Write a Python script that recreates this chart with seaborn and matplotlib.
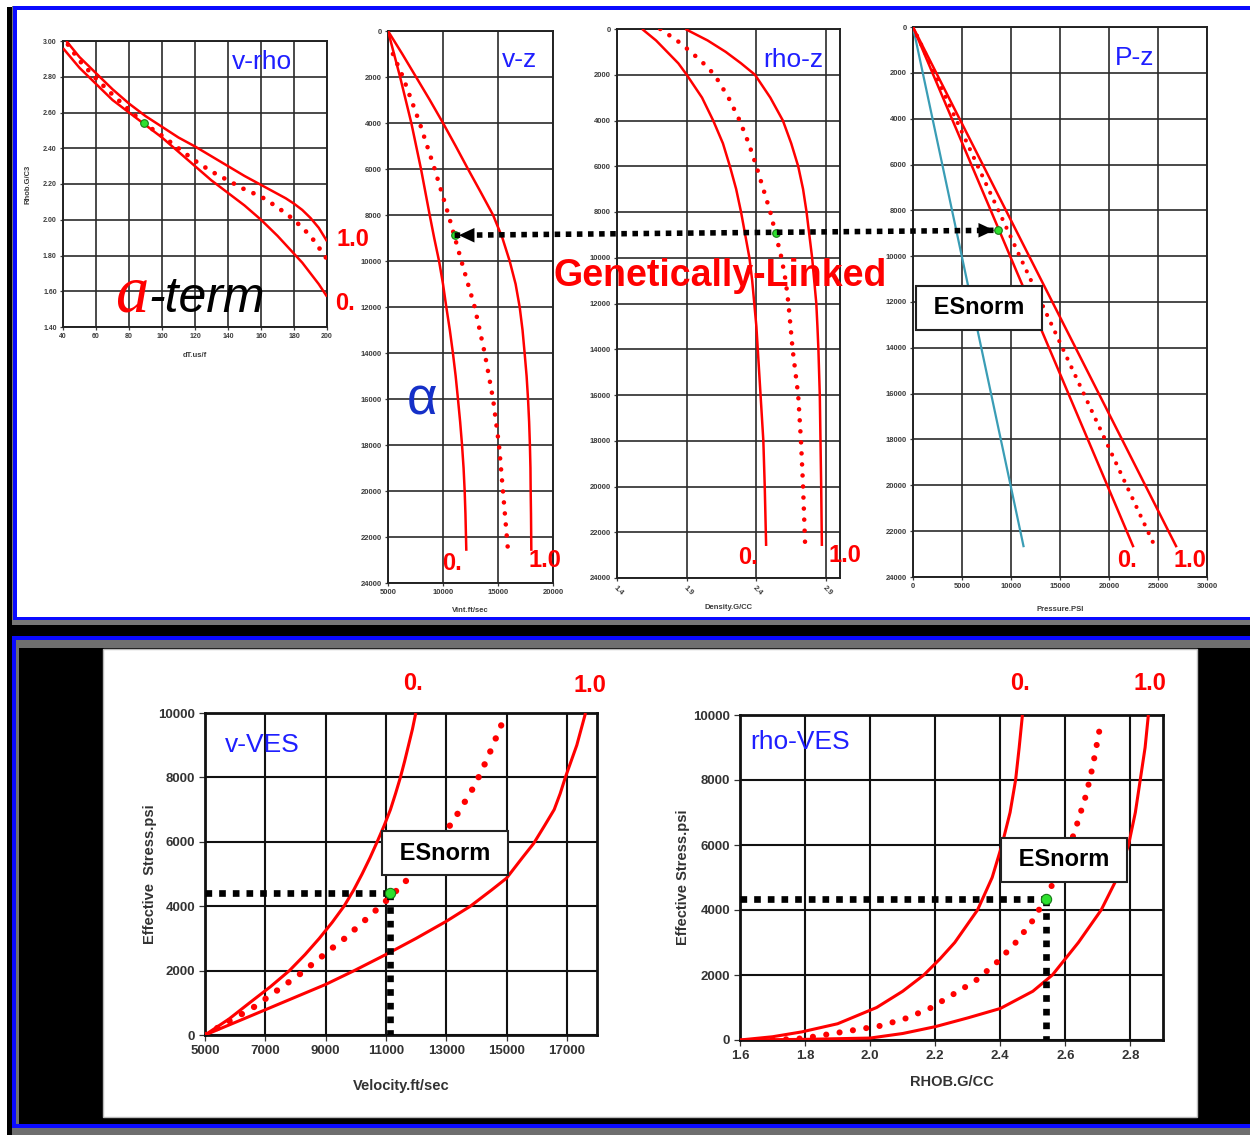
import matplotlib
matplotlib.use("Agg")
import matplotlib.pyplot as plt
from matplotlib.patches import Rectangle, ConnectionPatch
import seaborn as sns

# ------------------------------------------------------------------ data
# v-rho panel: sonic transit time (us/ft) vs bulk density (g/cc)
vrho_dt_lo = [40, 50, 60, 70, 80, 90, 100, 110, 120, 130, 140, 150, 160, 170, 180, 185, 190, 195, 200]
vrho_rho_lo = [2.96, 2.85, 2.76, 2.67, 2.60, 2.53, 2.46, 2.38, 2.30, 2.22, 2.15, 2.08, 2.00, 1.91, 1.81, 1.76, 1.70, 1.64, 1.57]
vrho_dt_hi = [42, 50, 60, 70, 80, 90, 100, 110, 120, 130, 140, 150, 160, 165, 170, 175, 180, 185, 190, 195, 200]
vrho_rho_hi = [3.00, 2.91, 2.82, 2.73, 2.65, 2.58, 2.52, 2.46, 2.41, 2.355, 2.30, 2.245, 2.195, 2.17, 2.145, 2.12, 2.09, 2.055, 2.01, 1.955, 1.88]
vrho_dt_mid = [43, 50, 60, 70, 80, 89, 100, 110, 120, 130, 140, 150, 160, 170, 180, 190, 200]
vrho_rho_mid = [2.98, 2.89, 2.79, 2.70, 2.615, 2.54, 2.47, 2.40, 2.33, 2.27, 2.22, 2.17, 2.13, 2.07, 2.00, 1.91, 1.78]
vrho_point = [89, 2.54]

# v-z panel: interval velocity (ft/s) vs depth (ft)
vz_depth_lo = [0, 2000, 4000, 6000, 8000, 9000, 10000, 11000, 12000, 13000, 14000, 15000, 16000,
               17000, 18000, 19000, 20000, 21000, 22600]
vz_vel_lo = [5000, 6100, 7120, 8000, 8790, 9200, 9640, 10000, 10300, 10620, 10900, 11150, 11360,
             11560, 11730, 11870, 11970, 12040, 12120]
vz_depth_hi = [0, 1000, 2000, 3000, 4000, 5000, 6000, 7000, 8000, 9000, 10000, 11000, 12000, 13000,
               14000, 15000, 16000, 17000, 18000, 19000, 20000, 21000, 22600]
vz_vel_hi = [5000, 6300, 7550, 8800, 10000, 11150, 12270, 13420, 14550, 15400, 16060, 16600, 16970,
             17230, 17420, 17600, 17730, 17830, 17900, 17950, 17970, 18000, 18030]
vz_depth_mid = [1000, 2000, 4000, 6000, 8000, 10000, 12000, 14000, 16000, 18000, 20000, 22600]
vz_vel_mid = [5450, 6360, 7880, 9240, 10500, 11670, 12880, 13790, 14550, 15090, 15450, 15910]
vz_point = [11060, 8880]

# rho-z panel: density (g/cc) vs depth (ft)
rz_depth = [0, 500, 1000, 1500, 2000, 3000, 4000, 5000, 6000, 7000, 8000, 9000, 10000, 11000,
            12000, 13000, 14000, 16000, 18000, 20000, 22600]
rz_rho_lo = [1.58, 1.68, 1.76, 1.84, 1.90, 2.01, 2.09, 2.16, 2.21, 2.255, 2.29, 2.32, 2.35, 2.37,
             2.385, 2.40, 2.41, 2.43, 2.45, 2.46, 2.47]
rz_rho_hi = [1.89, 2.05, 2.18, 2.29, 2.39, 2.50, 2.59, 2.65, 2.70, 2.735, 2.76, 2.78, 2.80, 2.815,
             2.83, 2.838, 2.845, 2.855, 2.86, 2.865, 2.87]
rz_rho_mid = [1.71, 1.83, 1.93, 2.02, 2.10, 2.20, 2.28, 2.345, 2.40, 2.45, 2.50, 2.54, 2.58, 2.61,
              2.63, 2.645, 2.66, 2.70, 2.72, 2.735, 2.75]
rz_point = [2.54, 8900]

# P-z panel: pressure (psi) vs depth (ft)
pz_depth_hyd = [0, 22700]
pz_p_hyd = [0, 11300]
pz_depth = [0, 22700]
pz_p_lo = [0, 22500]
pz_p_hi = [0, 26900]
pz_depth_mid = [0, 22500]
pz_p_mid = [0, 24500]
pz_point = [8700, 8870]

# v-VES panel: velocity (ft/s) vs effective stress (psi)
vv_stress_lo = [0, 500, 1000, 1500, 2000, 2500, 3000, 3500, 4000, 4500, 5000, 5500, 6000, 6500,
                7000, 7500, 8000, 8500, 9000, 9500, 10000]
vv_vel_lo = [5000, 5800, 6480, 7170, 7800, 8320, 8790, 9220, 9610, 9930, 10210, 10470, 10710, 10940,
             11150, 11320, 11480, 11620, 11750, 11880, 11990]
vv_stress_hi = [0, 500, 1000, 1570, 2000, 2500, 3000, 3530, 4000, 4500, 4870, 5500, 5950, 6500,
                7000, 7500, 8000, 9000, 10000]
vv_vel_hi = [5000, 6280, 7550, 9000, 9950, 11000, 12000, 13000, 13800, 14500, 15000, 15520, 15900,
             16260, 16580, 16780, 16950, 17330, 17620]
vv_stress_mid = [0, 846, 1104, 1362, 1878, 2704, 2982, 3581, 4220, 4819, 6574, 6986, 7760, 8586, 9855]
vv_vel_mid = [5000, 6590, 6976, 7360, 8130, 9226, 9610, 10324, 11070, 11700, 13180, 13452, 13950, 14363, 14930]
vv_point = [11150, 4400]

# rho-VES panel: bulk density (g/cc) vs effective stress (psi)
rv_stress_lo = [0, 100, 250, 500, 1000, 1500, 2000, 2500, 3000, 3500, 4000, 5000, 6000, 7000, 8000,
                9000, 10000]
rv_rho_lo = [1.6, 1.70, 1.79, 1.90, 2.02, 2.10, 2.165, 2.215, 2.26, 2.295, 2.33, 2.375, 2.405, 2.43,
             2.447, 2.458, 2.468]
rv_stress_hi = [0, 20, 60, 200, 410, 680, 970, 1500, 2000, 2500, 3000, 4000, 5000, 6000, 7000, 8000,
                9000, 10000]
rv_rho_hi = [1.6, 1.8, 2.0, 2.1, 2.2, 2.3, 2.4, 2.5, 2.56, 2.6, 2.64, 2.71, 2.76, 2.794, 2.815, 2.83,
             2.845, 2.855]
rv_rho_mid = [1.70, 1.794, 2.033, 2.109, 2.183, 2.323, 2.387, 2.444, 2.496, 2.517, 2.539, 2.626, 2.664, 2.684, 2.708]
rv_stress_mid = [0, 51, 439, 663, 969, 1816, 2367, 2959, 3622, 3980, 4306, 6327, 7551, 8418, 9714]
rv_point = [2.54, 4350]

# ticks
vrho_xticks = [40, 60, 80, 100, 120, 140, 160, 180, 200]
vrho_yticks = [1.40, 1.60, 1.80, 2.00, 2.20, 2.40, 2.60, 2.80, 3.00]
depth_ticks = list(range(0, 24001, 2000))
vz_xticks = [5000, 10000, 15000, 20000]
rz_xticks = [1.4, 1.9, 2.4, 2.9]
pz_xticks = [0, 5000, 10000, 15000, 20000, 25000, 30000]
ves_yticks = [0, 2000, 4000, 6000, 8000, 10000]
vv_xticks = [5000, 7000, 9000, 11000, 13000, 15000, 17000]
rv_xticks = [1.6, 1.8, 2.0, 2.2, 2.4, 2.6, 2.8]

# ------------------------------------------------------------------ style
sns.set_theme(style="white")
plt.rcParams["font.family"] = ["Liberation Sans", "DejaVu Sans"]

RED = "#ff0000"
BLUE = "#1f1fff"
W, H = 1250, 1135
fig = plt.figure(figsize=(W / 100, H / 100), dpi=100, facecolor="white")


def prect(x0, y0, x1, y1, color, z=-10, ec="none", lw=0):
    fig.patches.append(Rectangle((x0 / W, 1 - y1 / H), (x1 - x0) / W, (y1 - y0) / H,
                                 transform=fig.transFigure, facecolor=color,
                                 edgecolor=ec, linewidth=lw, zorder=z))


def ftext(x, y, s, **kw):
    kw.setdefault("ha", "center")
    kw.setdefault("va", "center")
    return fig.text(x / W, 1 - y / H, s, **kw)


# frames / backgrounds
prect(7, 7, 13, 1135, "black")
prect(12, 6, 1250, 625, "#777777")
prect(13, 6, 1250, 620, "#0a0aff")
prect(17, 10, 1250, 617, "white")
prect(7, 625, 1250, 1135, "black")
prect(12, 636, 1250, 1128, "#0a0aff")
prect(16, 640, 1250, 1124, "black")
prect(16, 640, 1250, 648, "#6f6f6f")
prect(16, 640, 19, 1124, "#6f6f6f")
prect(12, 1128, 1250, 1135, "#6f6f6f")
prect(103, 649, 1197, 1117, "white", ec="#bbbbbb", lw=1)
# bottom edge of the top frame drawn above the axes labels (they are cut there)
prect(13, 617, 1250, 620, "#0a0aff", z=10)
prect(12, 620, 1250, 625, "#777777", z=10)
prect(7, 625, 1250, 628, "black", z=10)

AX = {
    "vrho": (63, 41, 327, 327),
    "vz": (388, 31, 553, 583),
    "rhoz": (617, 29, 840, 578),
    "pz": (913, 27, 1207, 577),
    "vves": (205, 713, 597, 1035),
    "rves": (740, 715, 1163, 1040),
}


def add_ax(key):
    l, t, r, b = AX[key]
    ax = fig.add_axes([l / W, 1 - b / H, (r - l) / W, (b - t) / H])
    ax.set_facecolor("white")
    return ax


def style(ax, xt, xl, yt, yl, size, tcolor, gcolor, glw, scolor, slw, rot=0, tlen=2.5, pad=2):
    ax.set_xticks(xt)
    ax.set_xticklabels(xl, fontsize=size, fontweight="bold", color=tcolor, rotation=rot,
                       ha="center" if rot == 0 else "left", rotation_mode="anchor")
    ax.set_yticks(yt)
    ax.set_yticklabels(yl, fontsize=size, fontweight="bold", color=tcolor)
    ax.grid(True, color=gcolor, lw=glw)
    ax.set_axisbelow(True)
    ax.tick_params(axis="both", which="major", bottom=True, left=True, length=tlen,
                   width=0.9, color=tcolor, pad=pad, direction="out")
    for s in ax.spines.values():
        s.set_color(scolor)
        s.set_linewidth(slw)
        s.set_visible(True)


def xlabel_at(ax, key, text, top_px, size, color):
    l, t, r, b = AX[key]
    ax.set_xlabel(text, fontsize=size, fontweight="bold", color=color)
    ax.xaxis.set_label_coords(0.5, (b - top_px) / (b - t))


def ylabel_at(ax, key, text, right_px, size, color):
    l, t, r, b = AX[key]
    ax.set_ylabel(text, fontsize=size, fontweight="bold", color=color)
    ax.yaxis.set_label_coords((right_px - l) / (r - l), 0.5)


def solid(ax, x, y, lw, color=RED):
    sns.lineplot(x=x, y=y, ax=ax, sort=False, estimator=None, color=color,
                 linewidth=lw, solid_capstyle="butt", solid_joinstyle="round", zorder=3)


def dotted(ax, x, y, lw, gap):
    sns.lineplot(x=x, y=y, ax=ax, sort=False, estimator=None, color=RED,
                 linewidth=lw, linestyle=(0, (0.01, gap)), dash_capstyle="round", zorder=3)


def green(ax, pt, s):
    sns.scatterplot(x=[pt[0]], y=[pt[1]], ax=ax, color="#2ee02e", edgecolor="#157a15",
                    linewidth=0.8, s=s, zorder=7)


def black_dots(ax, x, y, lw):
    sns.lineplot(x=x, y=y, ax=ax, sort=False, estimator=None, color="black",
                 linewidth=lw, linestyle=(0, (1, 1.05)), dash_capstyle="butt", zorder=4)


TOPT = "#3c3c3c"
TOPG = "#2b2b2b"

# ------------------------------------------------------------------ v-rho
ax1 = add_ax("vrho")
solid(ax1, vrho_dt_hi, vrho_rho_hi, 1.8)
solid(ax1, vrho_dt_lo, vrho_rho_lo, 1.8)
dotted(ax1, vrho_dt_mid, vrho_rho_mid, 3.4, 2.3)
green(ax1, vrho_point, 30)
ax1.set_xlim(40, 200)
ax1.set_ylim(1.4, 3.0)
style(ax1, vrho_xticks, [str(v) for v in vrho_xticks], vrho_yticks,
      ["%.2f" % v for v in vrho_yticks], 5, TOPT, TOPG, 1.2, "#222", 1.4)
xlabel_at(ax1, "vrho", "dT.us/f", 352, 5.5, TOPT)
ylabel_at(ax1, "vrho", "Rhob.G/C3", 32, 5.5, TOPT)

# ------------------------------------------------------------------ v-z
ax2 = add_ax("vz")
solid(ax2, vz_vel_lo, vz_depth_lo, 1.8)
solid(ax2, vz_vel_hi, vz_depth_hi, 1.8)
dotted(ax2, vz_vel_mid, vz_depth_mid, 3.3, 2.4)
green(ax2, vz_point, 30)
ax2.set_xlim(5000, 20000)
ax2.set_ylim(24000, 0)
style(ax2, vz_xticks, [str(v) for v in vz_xticks], depth_ticks,
      [str(v) for v in depth_ticks], 5.5, TOPT, TOPG, 1.2, "#222", 1.4)
xlabel_at(ax2, "vz", "Vint.ft/sec", 607, 5.5, TOPT)
ax2.set_ylabel("")

# ------------------------------------------------------------------ rho-z
ax3 = add_ax("rhoz")
solid(ax3, rz_rho_lo, rz_depth, 1.8)
solid(ax3, rz_rho_hi, rz_depth, 1.8)
dotted(ax3, rz_rho_mid, rz_depth, 3.3, 2.4)
green(ax3, rz_point, 30)
ax3.set_xlim(1.4, 3.0)
ax3.set_ylim(24000, 0)
style(ax3, rz_xticks, [str(v) for v in rz_xticks], depth_ticks,
      [str(v) for v in depth_ticks], 5.5, TOPT, TOPG, 1.2, "#222", 1.4, rot=-45)
xlabel_at(ax3, "rhoz", "Density.G/CC", 604, 5.5, TOPT)
ax3.set_ylabel("")

# ------------------------------------------------------------------ P-z
ax4 = add_ax("pz")
solid(ax4, pz_p_hyd, pz_depth_hyd, 1.6, color="#3a9db5")
solid(ax4, pz_p_lo, pz_depth, 1.8)
solid(ax4, pz_p_hi, pz_depth, 1.8)
dotted(ax4, pz_p_mid, pz_depth_mid, 3.0, 2.3)
green(ax4, pz_point, 30)
ax4.set_xlim(0, 30000)
ax4.set_ylim(24000, 0)
style(ax4, pz_xticks, [str(v) for v in pz_xticks], depth_ticks,
      [str(v) for v in depth_ticks], 5.5, TOPT, TOPG, 1.2, "#222", 1.4)
xlabel_at(ax4, "pz", "Pressure.PSI", 606, 5.5, TOPT)
ax4.set_ylabel("")

# ------------------------------------------------------------------ v-VES
ax5 = add_ax("vves")
solid(ax5, vv_vel_lo, vv_stress_lo, 2.2)
solid(ax5, vv_vel_hi, vv_stress_hi, 2.2)
dotted(ax5, vv_vel_mid, vv_stress_mid, 4.6, 2.2)
black_dots(ax5, [vv_xticks[0], vv_point[0]], [vv_point[1], vv_point[1]], 4.8)
black_dots(ax5, [vv_point[0], vv_point[0]], [vv_point[1], 0], 4.8)
green(ax5, vv_point, 55)
ax5.set_xlim(5000, 18000)
ax5.set_ylim(0, 10000)
style(ax5, vv_xticks, [str(v) for v in vv_xticks], ves_yticks,
      [str(v) for v in ves_yticks], 9.5, "#333", "#111", 1.5, "#111", 2.0, tlen=4, pad=3)
xlabel_at(ax5, "vves", "Velocity.ft/sec", 1079, 10.5, "#333")
ylabel_at(ax5, "vves", "Effective  Stress.psi", 157, 10.5, "#333")

# ------------------------------------------------------------------ rho-VES
ax6 = add_ax("rves")
solid(ax6, rv_rho_lo, rv_stress_lo, 2.2)
solid(ax6, rv_rho_hi, rv_stress_hi, 2.2)
dotted(ax6, rv_rho_mid, rv_stress_mid, 4.4, 2.2)
black_dots(ax6, [rv_xticks[0], rv_point[0]], [rv_point[1], rv_point[1]], 4.8)
black_dots(ax6, [rv_point[0], rv_point[0]], [rv_point[1], 0], 4.8)
green(ax6, rv_point, 55)
ax6.set_xlim(1.6, 2.9)
ax6.set_ylim(0, 10000)
style(ax6, rv_xticks, ["%.1f" % v for v in rv_xticks], ves_yticks,
      [str(v) for v in ves_yticks], 9.5, "#333", "#111", 1.5, "#111", 2.0, tlen=4, pad=3)
xlabel_at(ax6, "rves", "RHOB.G/CC", 1075, 10.5, "#333")
ylabel_at(ax6, "rves", "Effective Stress.psi", 690, 10.5, "#333")

# ------------------------------------------------------------------ linking arrow
con = ConnectionPatch(xyA=vz_point, coordsA=ax2.transData, xyB=pz_point, coordsB=ax4.transData,
                      arrowstyle="-", color="black", linewidth=4.0, linestyle=(0, (1, 1)),
                      capstyle="butt", zorder=8)
fig.add_artist(con)
ax2.annotate("", xy=vz_point, xytext=(16, 0), textcoords="offset points",
             arrowprops=dict(arrowstyle="-|>,head_length=0.75,head_width=0.35",
                             mutation_scale=15, color="black", lw=0, shrinkA=0, shrinkB=3),
             zorder=9, annotation_clip=False)
ax4.annotate("", xy=pz_point, xytext=(-16, 0), textcoords="offset points",
             arrowprops=dict(arrowstyle="-|>,head_length=0.75,head_width=0.35",
                             mutation_scale=15, color="black", lw=0, shrinkA=0, shrinkB=3),
             zorder=9, annotation_clip=False)

# ------------------------------------------------------------------ annotations
for (x, y, s) in [(262, 62, "v-rho"), (520, 60, "v-z"), (793, 60, "rho-z"), (1135, 58, "P-z"),
                  (262, 745, "v-VES"), (800, 742, "rho-VES")]:
    ftext(x, y, s, fontsize=19, color=BLUE, zorder=9)

for (x, y, s) in [(353, 240, "1.0"), (345, 303, "0."), (452, 563, "0."), (545, 560, "1.0"),
                  (748, 558, "0."), (845, 555, "1.0"), (1127, 560, "0."), (1190, 560, "1.0"),
                  (413, 683, "0."), (590, 686, "1.0"), (1020, 683, "0."), (1150, 683, "1.0")]:
    ftext(x, y, s, fontsize=17, color=RED, fontweight="bold", zorder=9)

ftext(422, 400, "\u03b1", fontsize=38, color="#1530c8", zorder=9)
ftext(148, 312, "a", ha="right", va="baseline", fontsize=48, color=RED,
      family=["Liberation Serif", "DejaVu Serif"], style="italic", zorder=9)
ftext(148, 312, "-term", ha="left", va="baseline", fontsize=36, color="black",
      style="italic", zorder=9)
ftext(720, 276, "Genetically-Linked", fontsize=27, fontweight="bold", color=RED, zorder=9)

box = dict(boxstyle="square,pad=0.45", fc="white", ec="#222222", lw=1.5)
for (x, y) in [(979, 308), (445, 853), (1064, 860)]:
    ftext(x, y, " ESnorm ", fontsize=17, fontweight="bold", color="black", bbox=box, zorder=9)

fig.savefig("out.png", dpi=100, facecolor="white")
